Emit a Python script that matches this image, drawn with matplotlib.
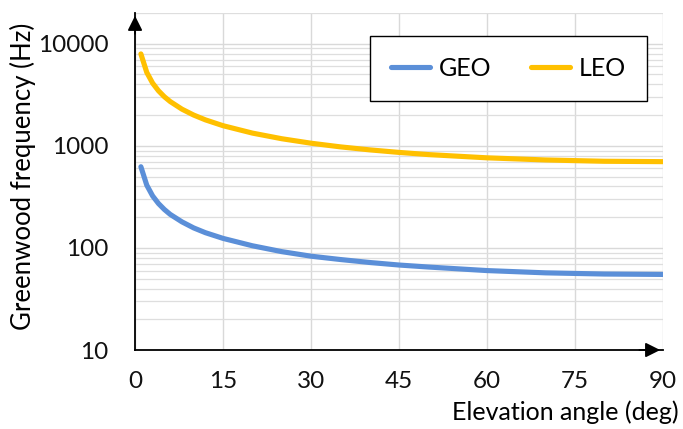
import matplotlib
matplotlib.use("Agg")
import matplotlib.pyplot as plt
from matplotlib.ticker import FixedLocator, NullFormatter

# values
elevation = [1, 2, 3, 4, 5, 6, 8, 10, 12, 15, 20, 25, 30, 35, 40, 45, 50, 60, 70, 80, 90]
geo = [624, 412, 323, 272, 238, 213, 180, 157, 141, 124, 105, 92, 83, 77, 72, 68, 65, 60, 57, 55.5, 55]
leo = [7945, 5240, 4110, 3460, 3026, 2714, 2286, 2001, 1796, 1575, 1333, 1174, 1061, 977, 913, 862,
       821, 763, 727, 706, 700]
x_ticks = [0, 15, 30, 45, 60, 75, 90]
y_ticks = [10, 100, 1000, 10000]

plt.rcParams['font.family'] = ['Lato', 'DejaVu Sans']

fig = plt.figure(figsize=(6.83, 4.29), dpi=100)
ax = fig.add_axes([0.1977, 0.1841, 0.7730, 0.7856])

ax.plot(elevation, geo, color="#5B8FD8", lw=3.7, solid_capstyle="round", label="GEO", zorder=3)
ax.plot(elevation, leo, color="#FFC000", lw=3.7, solid_capstyle="round", label="LEO", zorder=3)

ax.set_yscale("log")
ax.set_xlim(0, 90)
ax.set_ylim(10, 20000)
ax.set_xticks(x_ticks)
ax.set_yticks(y_ticks)
ax.set_yticklabels([str(v) for v in y_ticks])
minor = [m * 10 ** e for e in range(1, 5) for m in range(2, 10) if m * 10 ** e <= 20000]
ax.yaxis.set_minor_locator(FixedLocator(minor))
ax.yaxis.set_minor_formatter(NullFormatter())
ax.tick_params(which="both", length=0, labelsize=17.5, colors="#111111")
ax.tick_params(axis="y", pad=19)
ax.tick_params(axis="x", pad=15)

ax.grid(True, which="major", color="#d9d9d9", lw=1.0)
ax.grid(True, which="minor", axis="y", color="#dedede", lw=0.9)
ax.set_axisbelow(True)

for s in ["top", "right"]:
    ax.spines[s].set_visible(False)
for s in ["left", "bottom"]:
    ax.spines[s].set_color("black")
    ax.spines[s].set_linewidth(1.3)
    ax.spines[s].set_zorder(4)

# arrow heads on axes
ax.annotate("", xy=(0, 1.0), xytext=(0, 0.93), xycoords="axes fraction",
            arrowprops=dict(arrowstyle="-|>", color="black", lw=1.3, mutation_scale=22), zorder=5)
ax.annotate("", xy=(1.0, 0), xytext=(0.95, 0), xycoords="axes fraction",
            arrowprops=dict(arrowstyle="-|>", color="black", lw=1.3, mutation_scale=22), zorder=5)

fig.text(0.034, 0.59, "Greenwood frequency (Hz)", fontsize=18.5, rotation=90,
         ha="center", va="center")
fig.text(0.993, 0.04, "Elevation angle (deg)", fontsize=18, ha="right", va="center")

leg = ax.legend(loc="upper left", bbox_to_anchor=(0.445, 0.932), ncol=2, fontsize=18,
                frameon=True, fancybox=False, handlelength=1.55, columnspacing=1.6,
                borderpad=0.85, borderaxespad=0, handletextpad=0.35)
leg.get_frame().set_edgecolor("black")
leg.get_frame().set_linewidth(1.0)
leg.get_frame().set_alpha(1)

fig.savefig("out.png", dpi=100)
